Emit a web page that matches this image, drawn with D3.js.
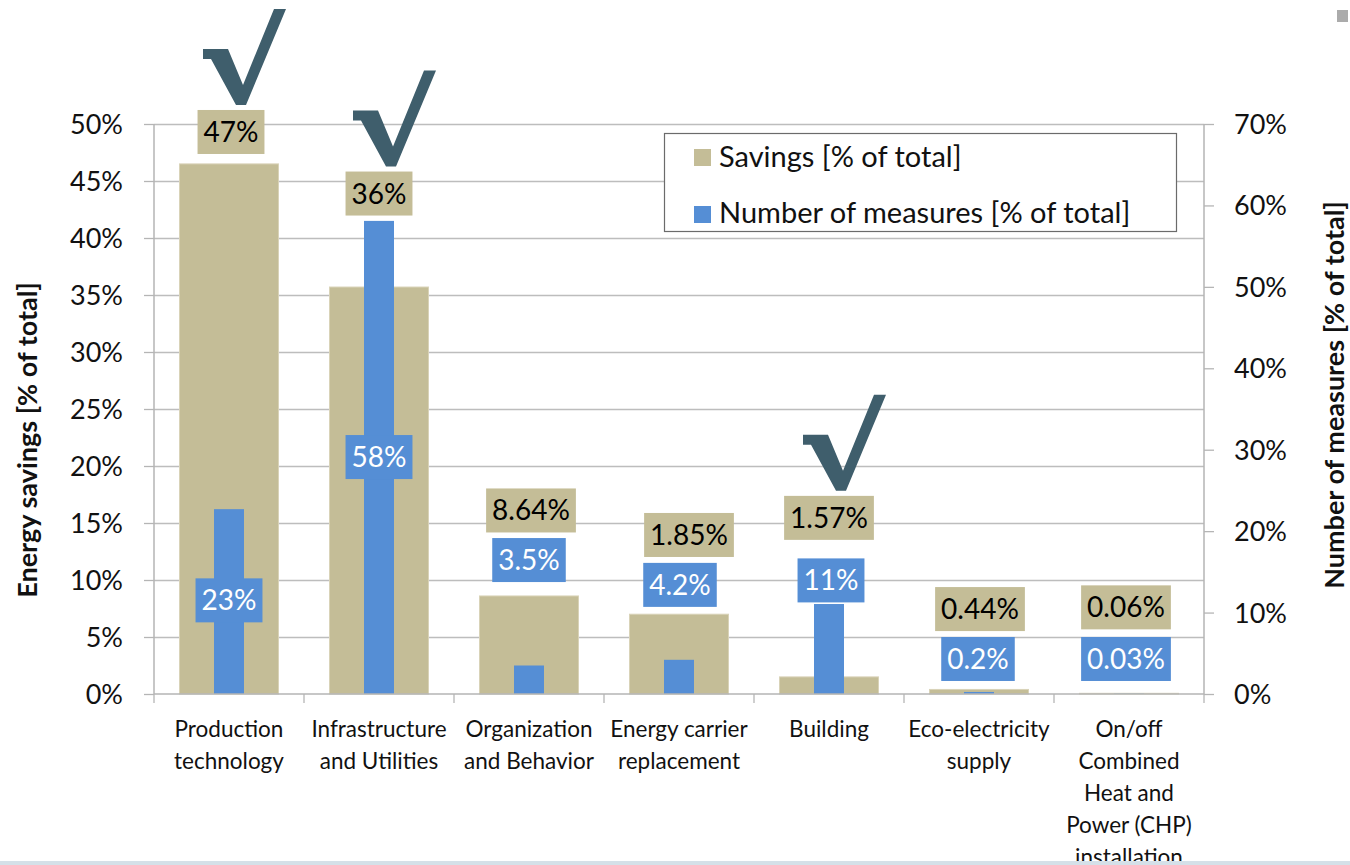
<!DOCTYPE html>
<html lang="en">
<head>
  <meta charset="UTF-8">
  <title>Energy savings by measure category</title>
  <style>
    body { margin: 0; background: #fff; }
    svg text { font-family: Lato, "Open Sans", sans-serif; }
  </style>
</head>
<body>
<svg width="1350" height="865"></svg>

<script src="https://cdn.jsdelivr.net/npm/d3@7/dist/d3.min.js"></script>
<script>
  // data
  var categories = ["Production technology", "Infrastructure and Utilities", "Organization and Behavior",
    "Energy carrier replacement", "Building", "Eco-electricity supply",
    "On/off Combined Heat and Power (CHP) installation"];
  var categoryLines = [["Production", "technology"], ["Infrastructure", "and Utilities"], ["Organization", "and Behavior"],
    ["Energy carrier", "replacement"], ["Building"], ["Eco-electricity", "supply"],
    ["On/off", "Combined", "Heat and", "Power (CHP)", "installation"]];
  var savings = [46.5, 35.7, 8.6, 7.0, 1.5, 0.4, 0.06];        // left axis, %
  var measures = [22.7, 58.1, 3.5, 4.2, 11.05, 0.25, 0.03];    // right axis, %
  var savingsLabels = ["47%", "36%", "8.64%", "1.85%", "1.57%", "0.44%", "0.06%"];
  var measuresLabels = ["23%", "58%", "3.5%", "4.2%", "11%", "0.2%", "0.03%"];
  var checked = [true, true, false, false, true, false, false];
  var leftTicks = d3.range(0, 51, 5);
  var rightTicks = d3.range(0, 71, 10);

  // where the data labels sit (axis units), and small sideways nudges
  var savLabelAt = [49.3, 43.9, 16.1, 13.95, 15.45, 7.45, 7.6];
  var measLabelAt = [11.5, 29.1, 16.45, 13.4, 13.95, 4.3, 4.3];
  var savLabelDx = [2, 0, 2, 10, 0, 1, -3];
  var measLabelDx = [0, 0, 0, 1, 2, -1, -3];

  var tan = "#c4bd97", blue = "#558ed5", checkColor = "#3f5e6c";
  var marge = {top: 124, bottom: 171, left: 154, right: 146};
  var svg = d3.select("svg"), width = +svg.attr("width"), height = +svg.attr("height");
  var x0 = marge.left, x1 = width - marge.right, yBase = height - marge.bottom;

  var x = d3.scaleBand().domain(d3.range(categories.length)).range([x0, x1]);
  var yL = d3.scaleLinear().domain([0, 50]).range([yBase, marge.top]);
  var yR = d3.scaleLinear().domain([0, 70]).range([yBase, marge.top]);
  var bw = x.bandwidth();
  var cx = function (i) { return x(i) + bw / 2; };

  // grid
  svg.append("g").attr("transform", `translate(${x0},0)`)
    .call(d3.axisLeft(yL).tickValues(leftTicks.slice(1)).tickSize(-(x1 - x0)).tickFormat(""))
    .call(function (g) {
      g.select(".domain").remove();
      g.selectAll("line").attr("stroke", "#bdbdbd").attr("stroke-width", 1.3);
    });

  // left axis
  svg.append("g").attr("transform", `translate(${x0},0)`)
    .call(d3.axisLeft(yL).tickValues(leftTicks).tickSize(10).tickPadding(21).tickFormat(function (d) { return d + "%"; }))
    .call(function (g) {
      g.select(".domain").attr("stroke", "#b5b5b5").attr("stroke-width", 1.5).attr("d", `M0,${yBase}V${marge.top}`);
      g.selectAll("line").attr("stroke", "#b5b5b5").attr("stroke-width", 1.3);
      g.selectAll("text").attr("font-size", 27).attr("fill", "#111").attr("dy", "0.35em");
    });

  // right axis
  svg.append("g").attr("transform", `translate(${x1},0)`)
    .call(d3.axisRight(yR).tickValues(rightTicks).tickSize(10).tickPadding(20).tickFormat(function (d) { return d + "%"; }))
    .call(function (g) {
      g.select(".domain").attr("stroke", "#b5b5b5").attr("stroke-width", 1.5).attr("d", `M0,${yBase}V${marge.top}`);
      g.selectAll("line").attr("stroke", "#b5b5b5").attr("stroke-width", 1.3);
      g.selectAll("text").attr("font-size", 27).attr("fill", "#111").attr("dy", "0.35em");
    });

  // savings bars
  var savW = bw * 0.66, measW = bw * 0.2;
  svg.append("g").selectAll("rect").data(savings).enter().append("rect")
    .attr("x", function (d, i) { return cx(i) - savW / 2; })
    .attr("y", function (d) { return yL(d); })
    .attr("width", savW)
    .attr("height", function (d) { return yBase - yL(d); })
    .attr("fill", tan).attr("stroke", "#d9d3b8").attr("stroke-width", 1);

  // measures bars
  svg.append("g").selectAll("rect").data(measures).enter().append("rect")
    .attr("x", function (d, i) { return cx(i) - measW / 2; })
    .attr("y", function (d) { return yR(d); })
    .attr("width", measW)
    .attr("height", function (d) { return yBase - yR(d); })
    .attr("fill", blue);

  // bottom axis line + boundary ticks
  var bottom = svg.append("g");
  bottom.append("line").attr("x1", x0).attr("x2", x1).attr("y1", yBase).attr("y2", yBase)
    .attr("stroke", "#b5b5b5").attr("stroke-width", 1.5);
  bottom.selectAll(".tk").data(d3.range(categories.length + 1)).enter().append("line")
    .attr("x1", function (i) { return x0 + i * x.step(); })
    .attr("x2", function (i) { return x0 + i * x.step(); })
    .attr("y1", yBase).attr("y2", yBase + 9)
    .attr("stroke", "#b5b5b5").attr("stroke-width", 1.3);

  // category labels
  var cat = svg.append("g").selectAll("text").data(categoryLines).enter().append("text")
    .attr("text-anchor", "middle").attr("font-size", 22.5).attr("fill", "#111")
    .attr("x", function (d, i) { return cx(i); })
    .attr("y", yBase + 42.5);
  cat.selectAll("tspan").data(function (d) { return d; }).enter().append("tspan")
    .attr("x", function () { return d3.select(this.parentNode).attr("x"); })
    .attr("dy", function (d, j) { return j === 0 ? 0 : 32; })
    .text(function (d) { return d; });

  // data labels: boxed text
  function boxLabels(labels, at, scale, dxs, fill, color) {
    var g = svg.append("g");
    var boxes = [];
    labels.forEach(function (t, i) {
      var cy = scale(at[i]), lx = cx(i) + dxs[i];
      var lab = g.append("g");
      var rect = lab.append("rect").attr("fill", fill);
      var txt = lab.append("text").attr("x", lx).attr("y", cy + 10)
        .attr("text-anchor", "middle").attr("font-size", 28).attr("fill", color).text(t);
      var w = txt.node().getBBox().width + 12;
      rect.attr("x", lx - w / 2).attr("y", cy - 22).attr("width", w).attr("height", 44);
      boxes.push({x: lx, top: cy - 22});
    });
    return boxes;
  }
  var savBoxes = boxLabels(savingsLabels, savLabelAt, yL, savLabelDx, tan, "#000");
  boxLabels(measuresLabels, measLabelAt, yR, measLabelDx, blue, "#fff");

  // check marks above the chosen categories (tip sits just above the savings label)
  var checkShape = [[-38, -56], [-13, -56], [2, -20], [33, -96], [45, -96], [5, 0], [-5, 0], [-30, -46], [-38, -46]];
  svg.append("g").selectAll("path").data(d3.range(categories.length).filter(function (i) { return checked[i]; }))
    .enter().append("path")
    .attr("transform", function (i) { return `translate(${cx(i) + 12},${savBoxes[i].top - 5})`; })
    .attr("d", d3.line()(checkShape) + "Z")
    .attr("fill", checkColor);

  // legend
  var leg = svg.append("g");
  leg.append("rect").attr("x", 664.5).attr("y", 133.5).attr("width", 512).attr("height", 98)
    .attr("fill", "#fff").attr("stroke", "#6b6b6b").attr("stroke-width", 1.2);
  [["Savings [% of total]", tan], ["Number of measures [% of total]", blue]].forEach(function (d, i) {
    leg.append("rect").attr("x", 694).attr("y", 149 + i * 57).attr("width", 17).attr("height", 17).attr("fill", d[1]);
    leg.append("text").attr("x", 719).attr("y", 167 + i * 56).attr("font-size", 29).attr("fill", "#111").text(d[0]);
  });

  // axis titles
  svg.append("text").attr("transform", "translate(37,440) rotate(-90)")
    .attr("text-anchor", "middle").attr("font-size", 27).attr("font-weight", "bold").attr("fill", "#111")
    .text("Energy savings [% of total]");
  svg.append("text").attr("transform", "translate(1344,395) rotate(-90)")
    .attr("text-anchor", "middle").attr("font-size", 27).attr("font-weight", "bold").attr("fill", "#111")
    .text("Number of measures [% of total]");

  // small grey marker top right and the pale strip along the bottom edge
  svg.append("rect").attr("x", 1337).attr("y", 10).attr("width", 11).attr("height", 12).attr("fill", "#ababab");
  svg.append("rect").attr("x", 0).attr("y", 861).attr("width", width).attr("height", 4).attr("fill", "#d5e0e8");
</script>
</body>
</html>
